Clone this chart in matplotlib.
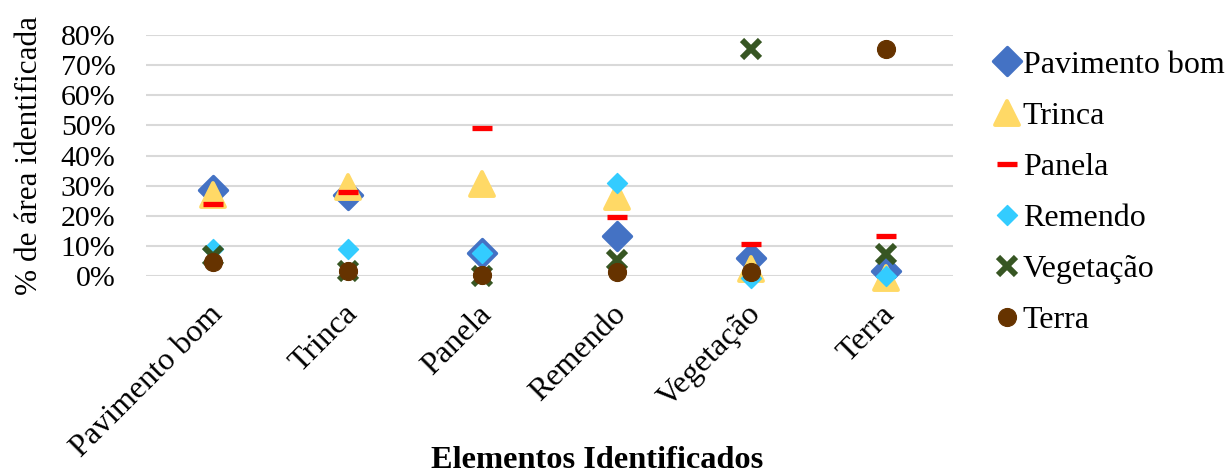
import matplotlib
matplotlib.use("Agg")
import matplotlib.pyplot as plt
import matplotlib.transforms as mtransforms
from matplotlib.markers import MarkerStyle
from matplotlib.ticker import PercentFormatter

plt.rcParams['font.family'] = ['Liberation Serif', 'DejaVu Serif']

categories = ["Pavimento bom", "Trinca", "Panela", "Remendo", "Vegetação", "Terra"]

# share of identified area (%) per class, for each reference element
pavimento_bom = [28.5, 27.0, 7.6, 13.3, 5.9, 1.8]
trinca = [27.0, 29.5, 30.5, 26.3, 2.4, -0.8]
panela = [24.0, 28.0, 49.2, 19.6, 10.5, 13.3]
remendo = [9.0, 8.9, 7.6, 30.8, -0.5, 0.0]
vegetacao = [6.8, 1.8, 0.0, 5.3, 75.3, 7.2]
terra = [4.5, 1.8, 0.3, 1.4, 1.4, 75.4]

series = [
    ("Pavimento bom", pavimento_bom, 'D', dict(ms=14.5, mfc='#4472C4', mec='#4472C4', mew=2.4)),
    ("Trinca", trinca, '^', dict(ms=17.5, mfc='#FFD966', mec='#FFD966', mew=2.8)),
    ("Panela", panela, '_', dict(ms=14, mec='#FF0000', mew=3.8)),
    ("Remendo", remendo, 'D', dict(ms=10, mfc='#33CCFF', mec='#33CCFF', mew=1.0)),
    ("Vegetação", vegetacao, 'x', dict(ms=13, mec='#375623', mew=4.3)),
    ("Terra", terra, 'o', dict(ms=13, mfc='#663300', mec='#663300', mew=0.8)),
]

fig = plt.figure(figsize=(12.26, 4.74), dpi=100)
ax = fig.add_axes([146 / 1226, 1 - 276 / 474, (953 - 146) / 1226, (276 - 35) / 474])

x = list(range(len(categories)))
handles = []
for name, vals, mk, style in series:
    join = 'miter' if mk in ('_', 'x') else 'round'
    line, = ax.plot(x, vals, linestyle='none', label=name, clip_on=False,
                    marker=MarkerStyle(mk, joinstyle=join), **style)
    handles.append(line)

ax.set_xlim(-0.5, len(categories) - 0.5)
ax.set_ylim(0, 80)
ax.set_yticks(range(0, 81, 10))
ax.yaxis.set_major_formatter(PercentFormatter(decimals=0))
ax.grid(axis='y', color='#D9D9D9', linewidth=1.5)
ax.set_axisbelow(True)
for s in ax.spines.values():
    s.set_visible(False)
ax.tick_params(axis='both', length=0)
ax.tick_params(axis='y', pad=22, labelsize=21.5)
ax.set_xticks(x)
ax.set_xticklabels(categories, rotation=45, ha='right', va='top',
                   rotation_mode='anchor', fontsize=23)
ax.tick_params(axis='x', pad=17)
shift = mtransforms.ScaledTranslation(-5 / 100, 0, fig.dpi_scale_trans)
for lab in ax.get_xticklabels():
    lab.set_transform(lab.get_transform() + shift)

ax.set_ylabel("% de área identificada", fontsize=22.5)
ax.yaxis.set_label_coords(-0.1264, 0.5)
fig.text(597 / 1226, 1 - 468 / 474, "Elementos Identificados", fontsize=23.3,
         fontweight='bold', ha='center', va='baseline')

leg = fig.legend(handles=handles, loc='upper left', bbox_to_anchor=(984.6 / 1226, 1 - 37.5 / 474),
                 frameon=False, fontsize=23, handlelength=0.6, handletextpad=0.2,
                 labelspacing=0.68, borderaxespad=0)

fig.savefig("out.png", dpi=100)
